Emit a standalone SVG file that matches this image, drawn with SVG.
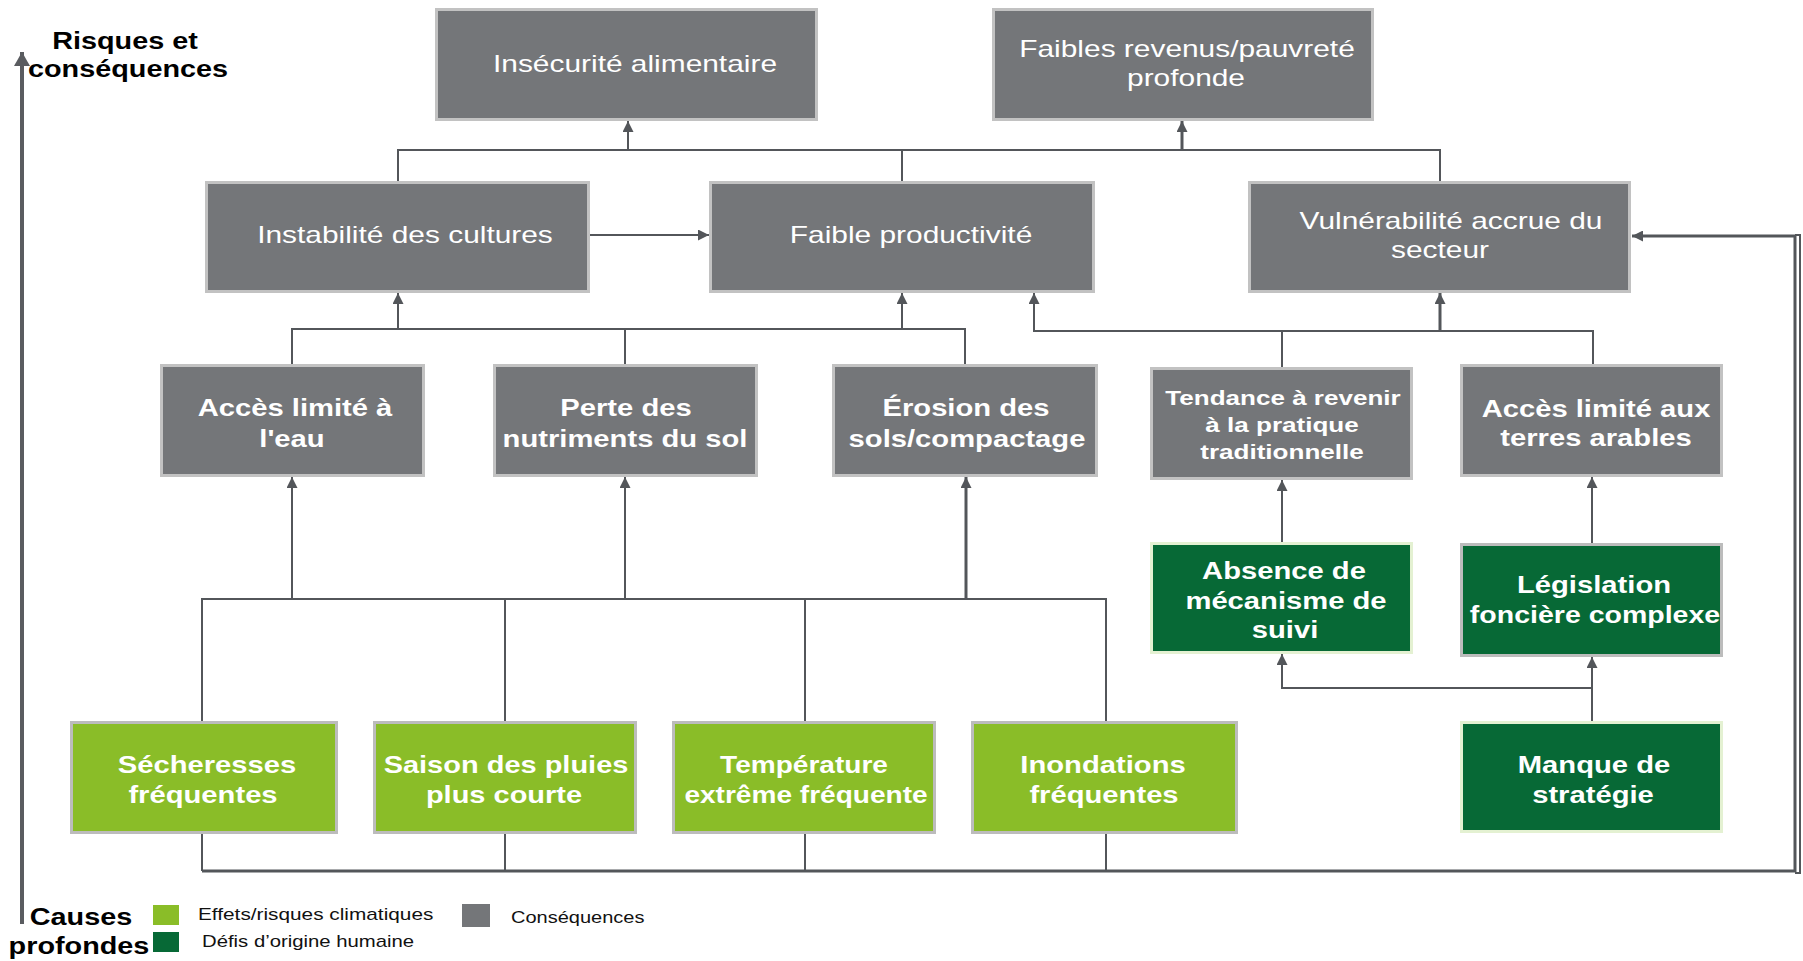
<svg xmlns="http://www.w3.org/2000/svg" width="1803" height="961" viewBox="0 0 1803 961">
<style>
.g{fill:#747679;stroke:#c2c2c2;stroke-width:3}
.lg{fill:#8abd28;stroke:#bcbcbc;stroke-width:3}
.dg{fill:#076936;stroke:#bcbcbc;stroke-width:3}
.dgl{fill:#076936;stroke:#e4f1d2;stroke-width:3}
text{font-family:"Liberation Sans",Arial,sans-serif}
.t{fill:#fff;font-size:23px;text-anchor:middle}
.b{fill:#fff;font-size:23px;font-weight:bold;text-anchor:middle}
.bs{fill:#fff;font-size:20.5px;font-weight:bold;text-anchor:middle}
.h{fill:#000;font-size:24px;font-weight:bold;text-anchor:middle}
.l{fill:#111;font-size:16px}
.c{fill:none;stroke:#53565a;stroke-width:2}
.ck{fill:none;stroke:#53565a;stroke-width:3}
</style>
<defs>
<marker id="ah" viewBox="0 0 12 12" refX="12" refY="6" markerWidth="12" markerHeight="11" markerUnits="userSpaceOnUse" orient="auto">
<path d="M0,0 L12,6 L0,12 z" fill="#53565a"/>
</marker>
<marker id="ax" viewBox="0 0 14 16" refX="14" refY="8" markerWidth="14" markerHeight="16" markerUnits="userSpaceOnUse" orient="auto">
<path d="M0,0 L14,8 L0,16 z" fill="#5a5c60"/>
</marker>
</defs>

<g id="axis">
<path d="M22,924 V52" fill="none" stroke="#5a5c60" stroke-width="4" marker-end="url(#ax)"/>
<text class="h" transform="translate(125 0) scale(1.2 1)" x="0" y="49">Risques et</text>
<text class="h" transform="translate(128 0) scale(1.2 1)" x="0" y="77">conséquences</text>
<text class="h" transform="translate(81 0) scale(1.2 1)" x="0" y="925">Causes</text>
<text class="h" transform="translate(79 0) scale(1.2 1)" x="0" y="954">profondes</text>
</g>

<g id="legend">
<rect x="153" y="905" width="26" height="20" fill="#8abd28"/>
<rect x="153" y="932" width="26" height="20" fill="#076936"/>
<rect x="462" y="904" width="28" height="23" fill="#747679"/>
<text class="l" transform="translate(198 0) scale(1.3 1)" x="0" y="920">Effets/risques climatiques</text>
<text class="l" transform="translate(511 0) scale(1.25 1)" x="0" y="923">Conséquences</text>
<text class="l" transform="translate(202 0) scale(1.27 1)" x="0" y="947">Défis d’origine humaine</text>
</g>

<g id="connectors">
<path class="c" d="M398,181 V150 H1440 V181"/>
<path class="c" d="M902,181 V150"/>
<path class="c" d="M628,150 V121" marker-end="url(#ah)"/>
<path class="ck" d="M1182,150 V121" marker-end="url(#ah)"/>
<path class="c" d="M590,235 H709" marker-end="url(#ah)"/>
<path class="c" d="M292,364 V329 H965 V364"/>
<path class="c" d="M625,364 V329"/>
<path class="c" d="M398,329 V293" marker-end="url(#ah)"/>
<path class="c" d="M902,329 V293" marker-end="url(#ah)"/>
<path class="c" d="M1593,364 V331 H1034 V293" marker-end="url(#ah)"/>
<path class="c" d="M1282,367 V331"/>
<path class="ck" d="M1440,331 V293" marker-end="url(#ah)"/>
<path class="c" d="M1282,542 V480" marker-end="url(#ah)"/>
<path class="c" d="M1592,543 V477" marker-end="url(#ah)"/>
<path class="c" d="M1592,721 V657" marker-end="url(#ah)"/>
<path class="c" d="M1592,688 H1282 V654" marker-end="url(#ah)"/>
<path class="c" d="M202,721 V599 H1106 V721"/>
<path class="c" d="M505,721 V599"/>
<path class="c" d="M805,721 V599"/>
<path class="c" d="M292,599 V477" marker-end="url(#ah)"/>
<path class="c" d="M625,599 V477" marker-end="url(#ah)"/>
<path class="ck" d="M966,599 V477" marker-end="url(#ah)"/>
<path class="c" d="M202,834 V871"/>
<path class="c" d="M505,834 V871"/>
<path class="c" d="M805,834 V871"/>
<path class="c" d="M1106,834 V871"/>
<path class="ck" d="M202,871 H1795 V236 H1632" marker-end="url(#ah)"/>
<path class="c" d="M1795,235 H1800 V873 H1795"/>
</g>

<g id="n1"><rect class="g" x="436.5" y="9.5" width="380" height="110"/>
<text class="t" transform="translate(635 0) scale(1.3 1)" x="0" y="72">Insécurité alimentaire</text></g>

<g id="n2"><rect class="g" x="993.5" y="9.5" width="379" height="110"/>
<text class="t" transform="translate(1187 0) scale(1.3 1)" x="0" y="57">Faibles revenus/pauvreté</text>
<text class="t" transform="translate(1186 0) scale(1.3 1)" x="0" y="86">profonde</text></g>

<g id="n3"><rect class="g" x="206.5" y="182.5" width="382" height="109"/>
<text class="t" transform="translate(405 0) scale(1.3 1)" x="0" y="243">Instabilité des cultures</text></g>

<g id="n4"><rect class="g" x="710.5" y="182.5" width="383" height="109"/>
<text class="t" transform="translate(911 0) scale(1.3 1)" x="0" y="243">Faible productivité</text></g>

<g id="n5"><rect class="g" x="1249.5" y="182.5" width="380" height="109"/>
<text class="t" transform="translate(1451 0) scale(1.3 1)" x="0" y="229">Vulnérabilité accrue du</text>
<text class="t" transform="translate(1440 0) scale(1.3 1)" x="0" y="258">secteur</text></g>

<g id="n6"><rect class="g" x="161.5" y="365.5" width="262" height="110"/>
<text class="b" transform="translate(295 0) scale(1.27 1)" x="0" y="416">Accès limité à</text>
<text class="b" transform="translate(292 0) scale(1.27 1)" x="0" y="447">l'eau</text></g>

<g id="n7"><rect class="g" x="494.5" y="365.5" width="262" height="110"/>
<text class="b" transform="translate(626 0) scale(1.27 1)" x="0" y="416">Perte des</text>
<text class="b" transform="translate(625 0) scale(1.27 1)" x="0" y="447">nutriments du sol</text></g>

<g id="n8"><rect class="g" x="833.5" y="365.5" width="263" height="110"/>
<text class="b" transform="translate(966 0) scale(1.27 1)" x="0" y="416">Érosion des</text>
<text class="b" transform="translate(967 0) scale(1.27 1)" x="0" y="447">sols/compactage</text></g>

<g id="n9"><rect class="g" x="1151.5" y="368.5" width="260" height="110"/>
<text class="bs" transform="translate(1283 0) scale(1.27 1)" x="0" y="405">Tendance à revenir</text>
<text class="bs" transform="translate(1282 0) scale(1.27 1)" x="0" y="432">à la pratique</text>
<text class="bs" transform="translate(1282 0) scale(1.27 1)" x="0" y="459">traditionnelle</text></g>

<g id="n10"><rect class="g" x="1461.5" y="365.5" width="260" height="110"/>
<text class="b" transform="translate(1596 0) scale(1.27 1)" x="0" y="417">Accès limité aux</text>
<text class="b" transform="translate(1596 0) scale(1.27 1)" x="0" y="446">terres arables</text></g>

<g id="n11"><rect class="dgl" x="1151.5" y="543.5" width="260" height="109"/>
<text class="b" transform="translate(1284 0) scale(1.27 1)" x="0" y="579">Absence de</text>
<text class="b" transform="translate(1286 0) scale(1.27 1)" x="0" y="609">mécanisme de</text>
<text class="b" transform="translate(1285 0) scale(1.27 1)" x="0" y="638">suivi</text></g>

<g id="n12"><rect class="dg" x="1461.5" y="544.5" width="260" height="111"/>
<text class="b" transform="translate(1594 0) scale(1.27 1)" x="0" y="593">Législation</text>
<text class="b" transform="translate(1595 0) scale(1.24 1)" x="0" y="623">foncière complexe</text></g>

<g id="n13"><rect class="lg" x="71.5" y="722.5" width="265" height="110"/>
<text class="b" transform="translate(207 0) scale(1.27 1)" x="0" y="773">Sécheresses</text>
<text class="b" transform="translate(203 0) scale(1.27 1)" x="0" y="803">fréquentes</text></g>

<g id="n14"><rect class="lg" x="374.5" y="722.5" width="261" height="110"/>
<text class="b" transform="translate(506 0) scale(1.26 1)" x="0" y="773">Saison des pluies</text>
<text class="b" transform="translate(504 0) scale(1.26 1)" x="0" y="803">plus courte</text></g>

<g id="n15"><rect class="lg" x="673.5" y="722.5" width="261" height="110"/>
<text class="b" transform="translate(804 0) scale(1.22 1)" x="0" y="773">Température</text>
<text class="b" transform="translate(806 0) scale(1.22 1)" x="0" y="803">extrême fréquente</text></g>

<g id="n16"><rect class="lg" x="972.5" y="722.5" width="264" height="110"/>
<text class="b" transform="translate(1103 0) scale(1.27 1)" x="0" y="773">Inondations</text>
<text class="b" transform="translate(1104 0) scale(1.27 1)" x="0" y="803">fréquentes</text></g>

<g id="n17"><rect class="dgl" x="1461.5" y="722.5" width="260" height="109"/>
<text class="b" transform="translate(1594 0) scale(1.27 1)" x="0" y="773">Manque de</text>
<text class="b" transform="translate(1593 0) scale(1.27 1)" x="0" y="803">stratégie</text></g>
</svg>
